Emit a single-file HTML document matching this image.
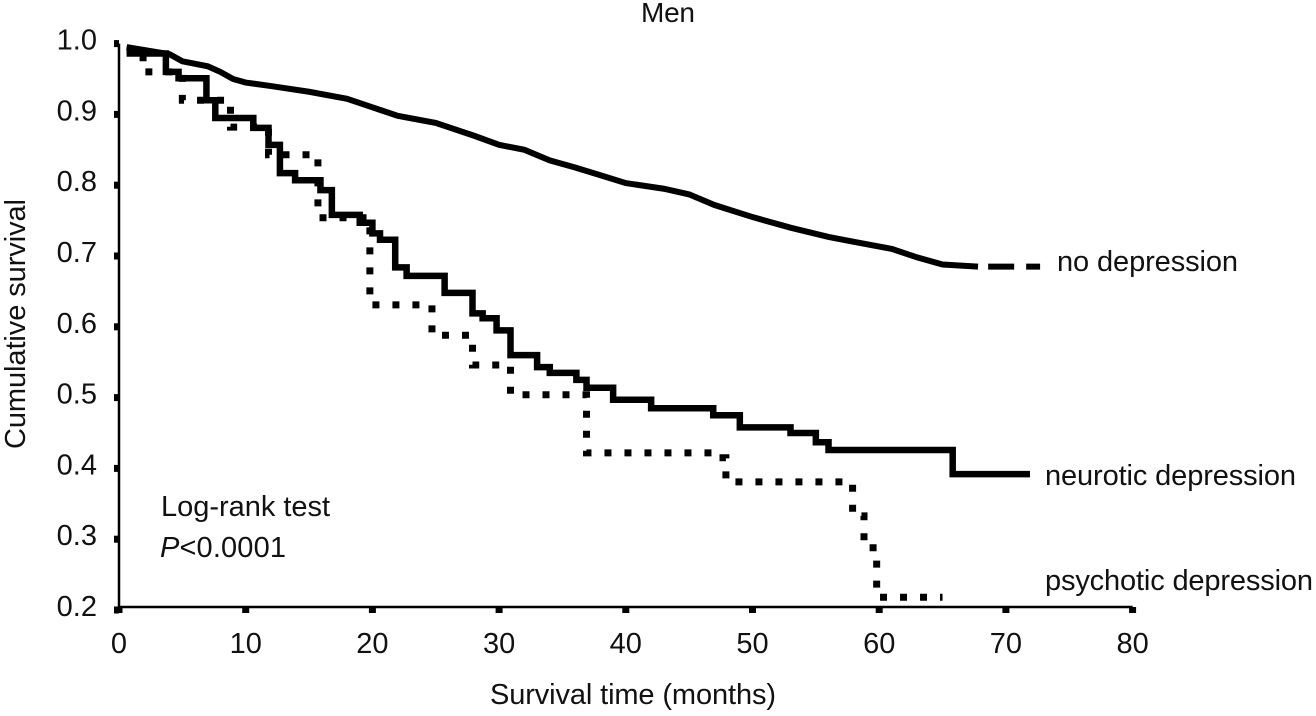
<!DOCTYPE html>
<html>
<head>
<meta charset="utf-8">
<style>
html,body{margin:0;padding:0;background:#fff;}
svg{display:block;}
text{font-family:"Liberation Sans",sans-serif;fill:#111;}
</style>
</head>
<body>
<svg id="chart" width="1316" height="716" viewBox="0 0 1316 716" xmlns="http://www.w3.org/2000/svg">
  <text x="641" y="22" font-size="28" textLength="54">Men</text>
  <text transform="translate(25,449) rotate(-90)" font-size="29" textLength="250">Cumulative survival</text>
  <text x="490" y="704" font-size="29" textLength="286">Survival time (months)</text>
  <text x="1057" y="271" font-size="29" textLength="181">no depression</text>
  <text x="1045" y="485" font-size="29" textLength="251">neurotic depression</text>
  <text x="1045" y="590" font-size="29" textLength="268">psychotic depression</text>
  <text x="161" y="516" font-size="29" textLength="169">Log-rank test</text>
  <text x="160" y="557" font-size="29" textLength="126"><tspan font-style="italic">P</tspan>&lt;0.0001</text>
  <g id="axes"></g>
  <g id="series"></g>
</svg>
<script>
const xTickLabels = [0, 10, 20, 30, 40, 50, 60, 70, 80];
const yTickLabels = [1.0, 0.9, 0.8, 0.7, 0.6, 0.5, 0.4, 0.3, 0.2];

const noDepressionTime = [0.6, 4, 5, 7, 8, 9, 10, 12, 15, 18, 20, 22, 25, 28, 30, 32, 34, 36, 38, 40, 43, 45, 47, 50, 53, 56, 58, 61, 63, 65, 67.8];
const noDepressionSurvival = [0.995, 0.985, 0.975, 0.968, 0.96, 0.95, 0.945, 0.94, 0.932, 0.922, 0.91, 0.898, 0.888, 0.87, 0.857, 0.85, 0.835, 0.825, 0.814, 0.803, 0.795, 0.787, 0.772, 0.755, 0.74, 0.727, 0.72, 0.71, 0.698, 0.688, 0.685];
const noDepressionTailTime = [68.6, 72.7];
const noDepressionTailSurvival = [0.685, 0.685];

const neuroticTime = [0.6, 3.7, 4.7, 6.9, 7.6, 10.6, 11.8, 12.7, 13.9, 15.9, 16.8, 19, 20, 20.6, 21.8, 22.7, 25.7, 27.9, 28.7, 29.8, 30.9, 33, 34, 36.1, 36.9, 39, 42, 46.9, 49, 53, 55, 56, 65.8, 71.9];
const neuroticSurvival = [0.986, 0.96, 0.951, 0.92, 0.895, 0.881, 0.857, 0.817, 0.807, 0.793, 0.758, 0.747, 0.732, 0.723, 0.684, 0.672, 0.648, 0.619, 0.612, 0.595, 0.56, 0.543, 0.535, 0.525, 0.514, 0.497, 0.485, 0.475, 0.458, 0.45, 0.437, 0.426, 0.392, 0.392];

const psychoticTime = [0.6, 1.9, 5, 8.8, 11.8, 15.7, 19.8, 24.7, 27.9, 30.9, 36.9, 47, 47.9, 57.9, 58.8, 59.8, 65];
const psychoticSurvival = [0.99, 0.96, 0.92, 0.882, 0.843, 0.754, 0.631, 0.588, 0.546, 0.504, 0.422, 0.415, 0.381, 0.333, 0.288, 0.218, 0.218];

const NS = 'http://www.w3.org/2000/svg';
function xScale(t) { return 119 + t * 12.67; }
function yScale(v) { return 610 - (v - 0.2) * 708; }
function make(tag, parent) {
  const el = document.createElementNS(NS, tag);
  parent.appendChild(el);
  return el;
}
function linePath(ts, vs) {
  return ts.map(function (t, i) { return (i ? 'L' : 'M') + xScale(t) + ' ' + yScale(vs[i]); }).join(' ');
}
function stepPath(ts, vs) {
  let d = 'M' + xScale(ts[0]) + ' ' + yScale(vs[0]);
  for (let i = 1; i < ts.length; i++) {
    d += ' L' + xScale(ts[i]) + ' ' + yScale(vs[i - 1]) + ' L' + xScale(ts[i]) + ' ' + yScale(vs[i]);
  }
  return d;
}

const axes = document.getElementById('axes');
const series = document.getElementById('series');

const yAxisLine = make('line', axes);


yAxisLine.setAttribute('x1', xScale(0));
yAxisLine.setAttribute('x2', xScale(0));
yAxisLine.setAttribute('y1', yScale(1));
yAxisLine.setAttribute('y2', 610);
yAxisLine.setAttribute('stroke', '#000');
yAxisLine.setAttribute('stroke-width', '2.5');

const xAxisLine = make('line', axes);


xAxisLine.setAttribute('x1', xScale(0));
xAxisLine.setAttribute('x2', xScale(80));
xAxisLine.setAttribute('y1', 607);
xAxisLine.setAttribute('y2', 607);
xAxisLine.setAttribute('stroke', '#000');
xAxisLine.setAttribute('stroke-width', '2.5');

xTickLabels.forEach(function (t) {
  const tick = make('rect', axes);
  
  
  tick.setAttribute('x', xScale(t) - 3.5);
  tick.setAttribute('y', 607);
  tick.setAttribute('width', 7);
  tick.setAttribute('height', 6);
  const label = make('text', axes);
  
  
  label.setAttribute('x', xScale(t));
  label.setAttribute('y', 653);
  label.setAttribute('font-size', '29');
  label.setAttribute('text-anchor', 'middle');
  label.textContent = String(t);
});

yTickLabels.forEach(function (v) {
  const tick = make('rect', axes);
  
  
  tick.setAttribute('x', xScale(0) - 5);
  tick.setAttribute('y', yScale(v) - 3.5);
  tick.setAttribute('width', 5);
  tick.setAttribute('height', 7);
  const label = make('text', axes);
  
  
  label.setAttribute('x', 97);
  label.setAttribute('y', yScale(v) + 6);
  label.setAttribute('font-size', '29');
  label.setAttribute('text-anchor', 'end');
  label.textContent = v.toFixed(1);
});

const noDepressionLine = make('path', series);


noDepressionLine.setAttribute('d', linePath(noDepressionTime, noDepressionSurvival));
noDepressionLine.setAttribute('fill', 'none');
noDepressionLine.setAttribute('stroke', '#000');
noDepressionLine.setAttribute('stroke-width', '6');

const noDepressionTail = make('path', series);


noDepressionTail.setAttribute('d', linePath(noDepressionTailTime, noDepressionTailSurvival));
noDepressionTail.setAttribute('fill', 'none');
noDepressionTail.setAttribute('stroke', '#000');
noDepressionTail.setAttribute('stroke-width', '6');
noDepressionTail.setAttribute('stroke-dasharray', '26 12');

const neuroticLine = make('path', series);


neuroticLine.setAttribute('d', stepPath(neuroticTime, neuroticSurvival));
neuroticLine.setAttribute('fill', 'none');
neuroticLine.setAttribute('stroke', '#000');
neuroticLine.setAttribute('stroke-width', '6.5');

const psychoticLine = make('path', series);


psychoticLine.setAttribute('d', stepPath(psychoticTime, psychoticSurvival));
psychoticLine.setAttribute('fill', 'none');
psychoticLine.setAttribute('stroke', '#000');
psychoticLine.setAttribute('stroke-width', '7');
psychoticLine.setAttribute('stroke-dasharray', '7 13');
</script>
</body>
</html>
